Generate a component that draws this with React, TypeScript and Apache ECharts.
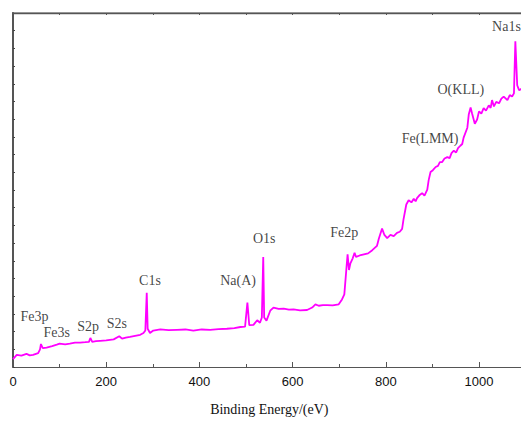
import React, { useEffect, useRef } from "react";
import * as echarts from "echarts";

// XPS survey spectrum: binding energy (eV) and intensity (a.u.)
const energy = [
  0, 8, 18, 29, 36, 43, 54, 58, 60, 64, 72, 84, 94, 100, 112, 122, 133, 144, 155, 163, 166, 170,
  178, 187, 200, 216, 228, 234, 242, 251, 262, 273, 280, 284, 287, 289, 294, 301, 316, 334, 352,
  370, 387, 405, 423, 441, 459, 475, 488, 498, 503, 507, 516, 524, 530, 534, 537, 539, 544, 552,
  559, 570, 581, 592, 602, 616, 631, 642, 649, 656, 665, 674, 686, 699, 706, 711, 715, 718, 721,
  724, 729, 733, 736, 744, 753, 762, 771, 781, 785, 792, 797, 803, 810, 817, 824, 830, 835, 838,
  844, 849, 855, 860, 864, 867, 872, 878, 883, 889, 892, 896, 901, 907, 912, 916, 921, 926, 932,
  937, 941, 946, 951, 955, 960, 964, 967, 975, 978, 982, 985, 991, 996, 1000, 1005, 1010, 1015,
  1021, 1025, 1028, 1032, 1037, 1043, 1048, 1053, 1061, 1066, 1071, 1075, 1078, 1082, 1086, 1093,
  1100,
];
const intensity = [
  2.2, 3.4, 3.2, 3.7, 3.3, 3.4, 3.9, 5.0, 6.5, 5.3, 5.5, 5.9, 6.3, 6.6, 6.4, 6.6, 6.9, 6.9, 7.0,
  7.1, 8.2, 7.1, 7.3, 7.4, 7.5, 7.8, 8.7, 8.0, 8.3, 8.5, 8.8, 9.1, 9.6, 10.3, 21.0, 10.8, 9.6,
  10.3, 10.6, 10.4, 10.5, 10.6, 10.3, 10.6, 10.5, 10.7, 10.8, 11.0, 11.3, 11.4, 18.2, 11.8, 11.9,
  13.2, 12.5, 14.0, 31.1, 14.0, 13.1, 15.9, 16.8, 16.4, 16.5, 16.2, 16.3, 16.0, 16.1, 16.8, 17.7,
  17.3, 17.5, 17.5, 17.4, 17.7, 19.1, 20.5, 27.0, 31.8, 27.4, 29.3, 30.7, 32.3, 31.1, 31.5, 31.8,
  32.1, 33.0, 34.2, 36.2, 39.1, 37.3, 36.4, 37.3, 37.0, 37.9, 38.2, 39.0, 41.7, 45.9, 47.1, 46.5,
  47.5, 46.8, 47.7, 48.5, 49.1, 48.4, 50.1, 52.8, 55.1, 55.6, 56.5, 56.8, 57.9, 57.9, 58.9, 59.3,
  59.0, 60.4, 61.1, 60.6, 61.8, 62.5, 63.0, 64.8, 67.6, 71.3, 73.3, 71.7, 68.7, 69.9, 72.2, 71.6,
  73.1, 72.4, 73.9, 73.2, 75.4, 73.6, 74.9, 74.5, 75.8, 76.4, 75.4, 76.8, 76.4, 77.3, 92.0, 79.6,
  78.2, 78.7, 79.3,
];

// Peak annotations, anchored in data coordinates
const peakNames = ["Fe3p", "Fe3s", "S2p", "S2s", "C1s", "Na(A)", "O1s", "Fe2p", "Fe(LMM)", "O(KLL)", "Na1s"];
const peakLabelEnergy = [46, 94, 161, 223, 294, 483, 539, 711, 895, 961, 1059];
const peakLabelHeight = [14.4, 9.7, 11.4, 12.2, 24.4, 24.4, 36.3, 38.0, 64.5, 78.4, 96.1];

const xTickValues = [0, 200, 400, 600, 800, 1000];

export default function App() {
  const ref = useRef<HTMLDivElement>(null);

  useEffect(() => {
    if (!ref.current) return;
    const chart = echarts.init(ref.current, null, { renderer: "svg" });
    const axisColor = "#555";
    chart.setOption({
      animation: false,
      backgroundColor: "#fff",
      grid: { left: 13, top: 13, right: 4.4, bottom: 47 },
      // top edge of the plot frame
      graphic: [
        {
          type: "rect",
          left: 12,
          top: 12.4,
          z: 100,
          shape: { width: 520, height: 1.5 },
          style: { fill: "#555" },
          silent: true,
        },
      ],
      xAxis: [
        {
          type: "value",
          min: 0,
          max: 1100,
          interval: 200,
          position: "bottom",
          name: "Binding Energy/(eV)",
          nameLocation: "middle",
          nameGap: 35,
          nameTextStyle: { fontFamily: "Liberation Serif", fontSize: 14, color: "#111" },
          axisLine: { show: true, onZero: false, lineStyle: { color: axisColor, width: 1.2 } },
          axisTick: { show: true, inside: true, length: 5, lineStyle: { color: axisColor } },
          minorTick: { show: true, splitNumber: 2, length: 3, lineStyle: { color: axisColor } },
          axisLabel: {
            fontFamily: "Liberation Sans",
            fontSize: 13,
            color: "#111",
            margin: 8,
            showMaxLabel: false,
            formatter: (v: number) => (xTickValues.includes(v) ? String(v) : ""),
          },
          splitLine: { show: false },
        },
        {
          type: "value",
          min: 0,
          max: 1100,
          interval: 100,
          position: "top",
          axisLine: { show: true, onZero: false, lineStyle: { color: "#666", width: 1.3 } },
          axisTick: { show: true, inside: true, length: 2, lineStyle: { color: axisColor } },
          axisLabel: { show: false },
          splitLine: { show: false },
        },
      ],
      yAxis: {
        type: "value",
        min: 0,
        max: 100,
        interval: 5,
        axisLine: { show: true, onZero: false, lineStyle: { color: axisColor, width: 2 } },
        axisTick: { show: true, inside: true, length: 2, lineStyle: { color: "#444" } },
        axisLabel: { show: false },
        splitLine: { show: false },
      },
      series: [
        {
          type: "line",
          data: energy.map((e, i) => [e, intensity[i]]),
          showSymbol: false,
          symbol: "none",
          lineStyle: { color: "#ff00ff", width: 1.8 },
          itemStyle: { color: "#ff00ff" },
          silent: true,
        },
        {
          // binds the top frame axis to the grid
          type: "line",
          xAxisIndex: 1,
          data: [],
          silent: true,
        },
        {
          type: "scatter",
          symbolSize: 0,
          silent: true,
          data: peakNames.map((n, i) => ({ value: [peakLabelEnergy[i], peakLabelHeight[i]], name: n })),
          label: {
            show: true,
            position: "inside",
            formatter: (p: any) => p.name,
            fontFamily: "Liberation Serif",
            fontSize: 14,
            color: "#111",
          },
        },
      ],
    });
    return () => chart.dispose();
  }, []);

  return (
    <div style={{ position: "fixed", left: 0, top: 0, width: 521, height: 421, overflow: "hidden", background: "#fff" }}>
      <div ref={ref} style={{ width: 530, height: 421 }} />
    </div>
  );
}
